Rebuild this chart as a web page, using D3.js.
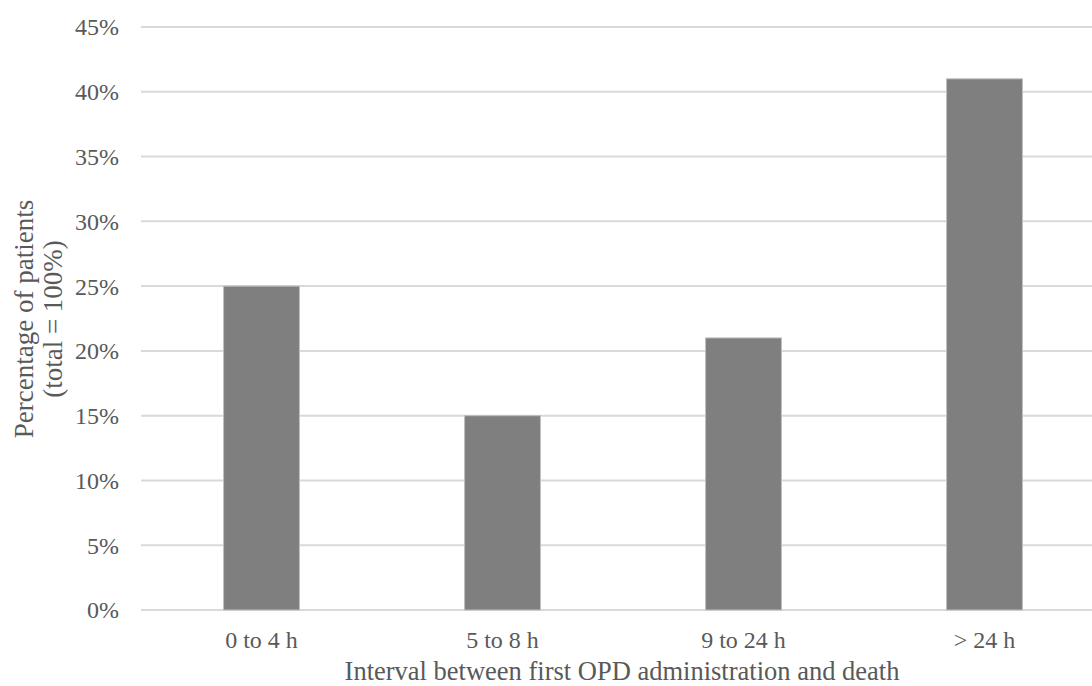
<!DOCTYPE html>
<html lang="en">
  <head>
    <meta charset="UTF-8" />
    <title>Interval between first OPD administration and death</title>
    <script src="https://d3js.org/d3.v7.min.js"></script>
    <style>
      body { margin: 0; background: #fff; }
    </style>
  </head>
  <body></body>
  <script>
    var categories = ["0 to 4 h", "5 to 8 h", "9 to 24 h", "> 24 h"];
    var percents = [25, 15, 21, 41];
    var yTicks = [0, 5, 10, 15, 20, 25, 30, 35, 40, 45];
    var xTitle = "Interval between first OPD administration and death";
    var yTitle = ["Percentage of patients", "(total = 100%)"];

    var W = 1092, H = 686;
    var margin = { top: 27, right: -13, bottom: 76, left: 141 };
    var width = W - margin.left - margin.right,
      height = H - margin.top - margin.bottom;
    var font = "'Liberation Serif', 'Times New Roman', serif";
    var textColor = "#595959";

    var svg = d3
      .select("body")
      .append("svg")
      .attr("width", W)
      .attr("height", H)
      .style("font-family", font);

    var g = svg
      .append("g")
      .attr("transform", "translate(" + margin.left + "," + margin.top + ")");

    var x = d3.scaleBand().domain(categories).range([0, width]).paddingInner(0.685).paddingOuter(0.3425);
    var y = d3.scaleLinear().domain([0, 45]).range([height, 0]);

    // gridlines
    g.append("g")
      .selectAll("line")
      .data(yTicks)
      .join("line")
      .attr("x1", 0)
      .attr("x2", width)
      .attr("y1", d => y(d))
      .attr("y2", d => y(d))
      .attr("stroke", "#d9d9d9")
      .attr("stroke-width", 2);

    // y tick labels
    g.append("g")
      .selectAll("text")
      .data(yTicks)
      .join("text")
      .attr("x", -22)
      .attr("y", d => y(d))
      .attr("dy", "0.35em")
      .attr("text-anchor", "end")
      .attr("font-size", 24)
      .attr("fill", textColor)
      .text(d => d + "%");

    // bars
    g.append("g")
      .selectAll("rect")
      .data(percents)
      .join("rect")
      .attr("x", (d, i) => x(categories[i]))
      .attr("y", d => y(d))
      .attr("width", x.bandwidth())
      .attr("height", d => height - y(d))
      .attr("fill", "#7f7f7f")
      .attr("stroke", "#bfbfbf")
      .attr("stroke-width", 1);

    // x labels
    g.append("g")
      .selectAll("text")
      .data(categories)
      .join("text")
      .attr("x", d => x(d) + x.bandwidth() / 2)
      .attr("y", height + 38)
      .attr("text-anchor", "middle")
      .attr("font-size", 24)
      .attr("fill", textColor)
      .text(d => d);

    svg
      .append("text")
      .attr("x", 622)
      .attr("y", 680)
      .attr("text-anchor", "middle")
      .attr("font-size", 26.5)
      .attr("fill", textColor)
      .text(xTitle);

    svg
      .append("text")
      .attr("transform", "translate(33,319) rotate(-90)")
      .attr("text-anchor", "middle")
      .attr("font-size", 27)
      .attr("fill", textColor)
      .selectAll("tspan")
      .data(yTitle)
      .join("tspan")
      .attr("x", 0)
      .attr("dy", (d, i) => (i === 0 ? 0 : 29))
      .text(d => d);
  </script>
</html>
